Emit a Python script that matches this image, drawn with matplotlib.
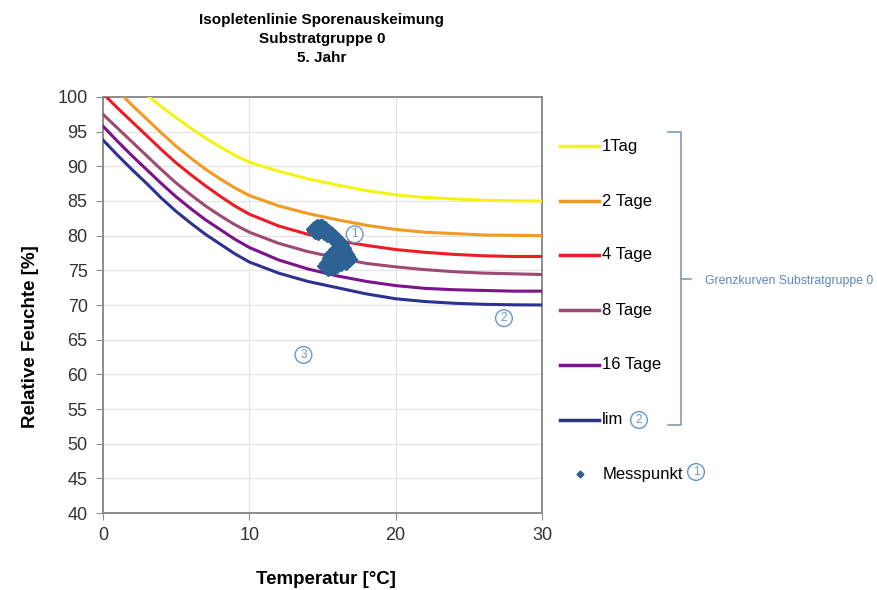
import matplotlib.pyplot as plt
from matplotlib.lines import Line2D
import numpy as np

plt.rcParams["font.family"] = ["Liberation Sans", "DejaVu Sans"]

# Isopleths: relative humidity [%] over temperature [°C]
temp = [0, 1, 2, 3, 4, 5, 6, 7, 8, 9, 10, 12, 14, 16, 18, 20, 22, 24, 26, 28, 30]
rh_1tag = [106.0, 104.0, 102.0, 100.3, 98.6, 97.0, 95.5, 94.1, 92.8, 91.6, 90.6,
           89.3, 88.2, 87.3, 86.5, 85.9, 85.5, 85.3, 85.1, 85.03, 85.0]
rh_2tage = [103.0, 100.9, 98.8, 96.8, 94.8, 92.9, 91.2, 89.6, 88.2, 86.9, 85.8,
            84.3, 83.2, 82.3, 81.5, 80.9, 80.5, 80.3, 80.1, 80.05, 80.0]
rh_4tage = [100.5, 98.4, 96.4, 94.4, 92.4, 90.5, 88.8, 87.2, 85.7, 84.3, 83.1,
            81.4, 80.2, 79.3, 78.6, 78.0, 77.6, 77.3, 77.1, 77.0, 77.0]
rh_8tage = [97.5, 95.5, 93.5, 91.5, 89.5, 87.6, 85.9, 84.3, 82.9, 81.6, 80.5,
            78.9, 77.7, 76.8, 76.0, 75.5, 75.1, 74.8, 74.6, 74.5, 74.4]
rh_16tage = [95.8, 93.6, 91.5, 89.5, 87.5, 85.6, 83.9, 82.3, 80.9, 79.5, 78.3,
             76.5, 75.2, 74.2, 73.4, 72.8, 72.4, 72.2, 72.1, 72.0, 72.0]
rh_lim = [93.8, 91.6, 89.5, 87.5, 85.4, 83.5, 81.8, 80.2, 78.8, 77.4, 76.2,
          74.6, 73.4, 72.5, 71.6, 70.9, 70.5, 70.25, 70.1, 70.03, 70.0]

curve_labels = ["1Tag", "2 Tage", "4 Tage", "8 Tage", "16 Tage", "lim"]
curve_colors = ["#F4F414", "#F29A22", "#EE1C24", "#9E4A72", "#7C128C", "#2E3192"]

# Measured points (temperature, humidity)
mess_t = [14.4, 14.6, 14.8, 15.0, 15.2, 15.4, 15.6, 15.8, 16.0, 16.2, 16.3, 16.4,
          16.5, 16.6, 16.7, 16.8, 16.6, 16.3, 16.0, 15.7, 15.4, 15.2, 15.3, 15.5,
          15.8, 16.0, 16.1, 15.9, 15.6, 15.5, 16.2, 16.4, 14.7, 15.1, 15.9, 16.5,
          15.6, 16.2, 14.5, 15.3, 15.7, 16.1]
mess_rh = [80.9, 81.2, 81.3, 81.2, 80.9, 80.6, 80.2, 79.8, 79.4, 79.0, 78.6, 78.2,
           77.8, 77.4, 77.0, 76.6, 76.2, 76.0, 75.8, 75.5, 75.3, 75.6, 76.0, 76.4,
           76.8, 77.2, 77.6, 78.0, 77.2, 76.8, 76.8, 76.6, 80.6, 80.5, 76.3, 77.2,
           75.9, 77.9, 80.7, 80.3, 79.6, 78.8]

circ_color = "#6A96C8"
mess_color = "#2F6294"

fig = plt.figure(figsize=(8.77, 5.9), dpi=100)
ax = fig.add_axes([0.1174, 0.1305, 0.5006, 0.7051])

series = [rh_1tag, rh_2tage, rh_4tage, rh_8tage, rh_16tage, rh_lim]
for vals, col in zip(series, curve_colors):
    ax.plot(temp, vals, color=col, lw=2.2, solid_joinstyle="round", zorder=3)

ax.plot(mess_t, mess_rh, ls="none", marker="D", ms=8, color=mess_color,
        mec=mess_color, zorder=4)

ax.set_xlim(0, 30)
ax.set_ylim(40, 100)
ax.set_xticks([0, 10, 20, 30])
ax.set_yticks(np.arange(40, 101, 5))
ax.grid(True, color="#E2E2E2", lw=0.8, zorder=0)
ax.set_axisbelow(True)
for side in ["left", "bottom", "right", "top"]:
    ax.spines[side].set_color("#8C8C8C")
    ax.spines[side].set_linewidth(1.4)
ax.tick_params(axis="both", labelsize=13, colors="#8C8C8C", labelcolor="#333333",
               length=5, direction="out")
ax.tick_params(axis="x", pad=5)
ax.tick_params(axis="y", pad=6)
ax.set_xlabel("Temperatur [°C]", fontsize=13.5, fontweight="bold", va="top")
ax.set_ylabel("Relative Feuchte [%]", fontsize=13.5, fontweight="bold")
ax.xaxis.set_label_coords(0.509, -0.14)
ax.yaxis.set_label_coords(-0.145, 0.425)


def circled(x, y, s, transform, size=8.5):
    fig.text(x, y, s, transform=transform, fontsize=size, color=circ_color,
             ha="center", va="center",
             bbox=dict(boxstyle="circle,pad=0.2", fc="white", ec=circ_color, lw=1.0))


# region markers inside the plot
for x, y, s in [(17.2, 80.2, "1"), (27.4, 68.1, "2"), (13.7, 62.8, "3")]:
    circled(x, y, s, ax.transData)

fig.text(0.367, 0.978, "Isopletenlinie Sporenauskeimung\nSubstratgruppe 0\n5. Jahr",
         ha="center", va="top", fontsize=11, fontweight="bold", linespacing=1.45)

# legend drawn in figure pixels
W, H = 877, 590
def fx(px):
    return px / W
def fy(py):
    return 1 - py / H

rows = [146, 201, 255, 310, 365, 420]
for lab, col, py in zip(curve_labels, curve_colors, rows):
    fig.add_artist(Line2D([fx(560), fx(599)], [fy(py), fy(py)], color=col, lw=2.5))
    fig.text(fx(602), fy(py), lab, fontsize=12, va="center", ha="left")
circled(fx(639), fy(420), "2", fig.transFigure)

fig.add_artist(Line2D([fx(580)], [fy(474)], marker="D", ms=3.5, color=mess_color, ls="none"))
fig.text(fx(603), fy(474), "Messpunkt", fontsize=12, va="center", ha="left")
circled(fx(696), fy(472), "1", fig.transFigure)

# bracket grouping the limit curves
bx = [fx(668), fx(681), fx(681), fx(668)]
by = [fy(132), fy(132), fy(425), fy(425)]
fig.add_artist(Line2D(bx, by, color="#7D9CC4", lw=1.2))
fig.add_artist(Line2D([fx(681), fx(691)], [fy(279), fy(279)], color="#7D9CC4", lw=1.2))
fig.text(fx(705), fy(281), "Grenzkurven Substratgruppe 0", fontsize=8.8,
         color="#5B87C2", va="center", ha="left")

fig.savefig("out.png", dpi=100, facecolor="white")
